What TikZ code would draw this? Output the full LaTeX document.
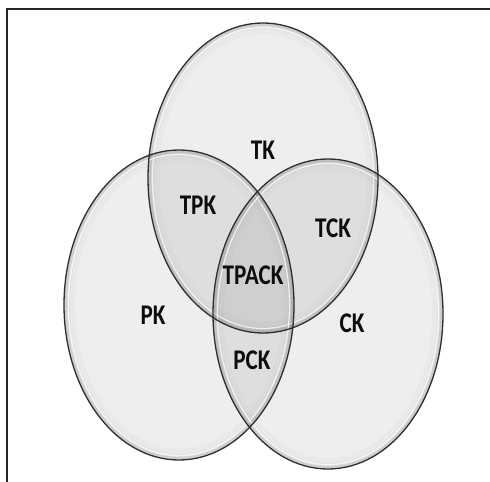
\documentclass[tikz,border=0pt]{standalone}
\usepackage{fontspec}
\setmainfont{Carlito}
\newcommand\setlab[1]{\scalebox{0.86}[1.06]{#1}}
\begin{document}
\begin{tikzpicture}[x=1bp,y=-1bp,
  setfill/.style={fill=black, fill opacity=0.065},
  rim/.style={draw=black, draw opacity=#1},
  gloss/.style={draw=white, draw opacity=0.75, line width=1.2bp},
  edge/.style={draw=black!82, line width=1.3bp},
  frame/.style={draw=black!85, line width=1.2bp},
  lbl/.style={font=\bfseries\fontsize{27}{27}\selectfont, text=black!95, inner sep=0}]
\useasboundingbox (0,0) rectangle (490,482);

% outer frame (top and left sides only)
\coordinate (f1) at (490,9);
\coordinate (f2) at (7,9);
\coordinate (f3) at (7,482);
\draw[frame] (f1) -- (f2) -- (f3);

% centres of the three sets
\coordinate (T) at (263,178);
\coordinate (P) at (179,305);
\coordinate (C) at (328,314);

\def\ell{ellipse [x radius=115bp, y radius=155bp]}
\def\inner{ellipse [x radius=110.5bp, y radius=150.5bp]}

% translucent fills
\foreach \c in {T,P,C}
  \path[setfill] (\c) \ell;

% inner shading and gloss along each rim
\foreach \c in {T,P,C} {
  \begin{scope}
    \clip (\c) \ell;
    \draw[rim=0.02, line width=22bp] (\c) \ell;
    \draw[rim=0.04, line width=12bp] (\c) \ell;
    \draw[rim=0.08, line width=6bp] (\c) \ell;
    \draw[gloss] (\c) \inner;
  \end{scope}
}

% outlines
\foreach \c in {T,P,C}
  \draw[edge] (\c) \ell;

% labels
\node[lbl] (tk) at (263,150) {\setlab{TK}};
\node[lbl] (tpk) at (198,205) {\setlab{TPK}};
\node[lbl] (tck) at (333,228) {\setlab{TCK}};
\node[lbl] (tpack) at (253,275) {\setlab{TPACK}};
\node[lbl] (pk) at (153,315) {\setlab{PK}};
\node[lbl] (ck) at (352,323) {\setlab{CK}};
\node[lbl] (pck) at (252,360) {\setlab{PCK}};
\end{tikzpicture}
\end{document}
